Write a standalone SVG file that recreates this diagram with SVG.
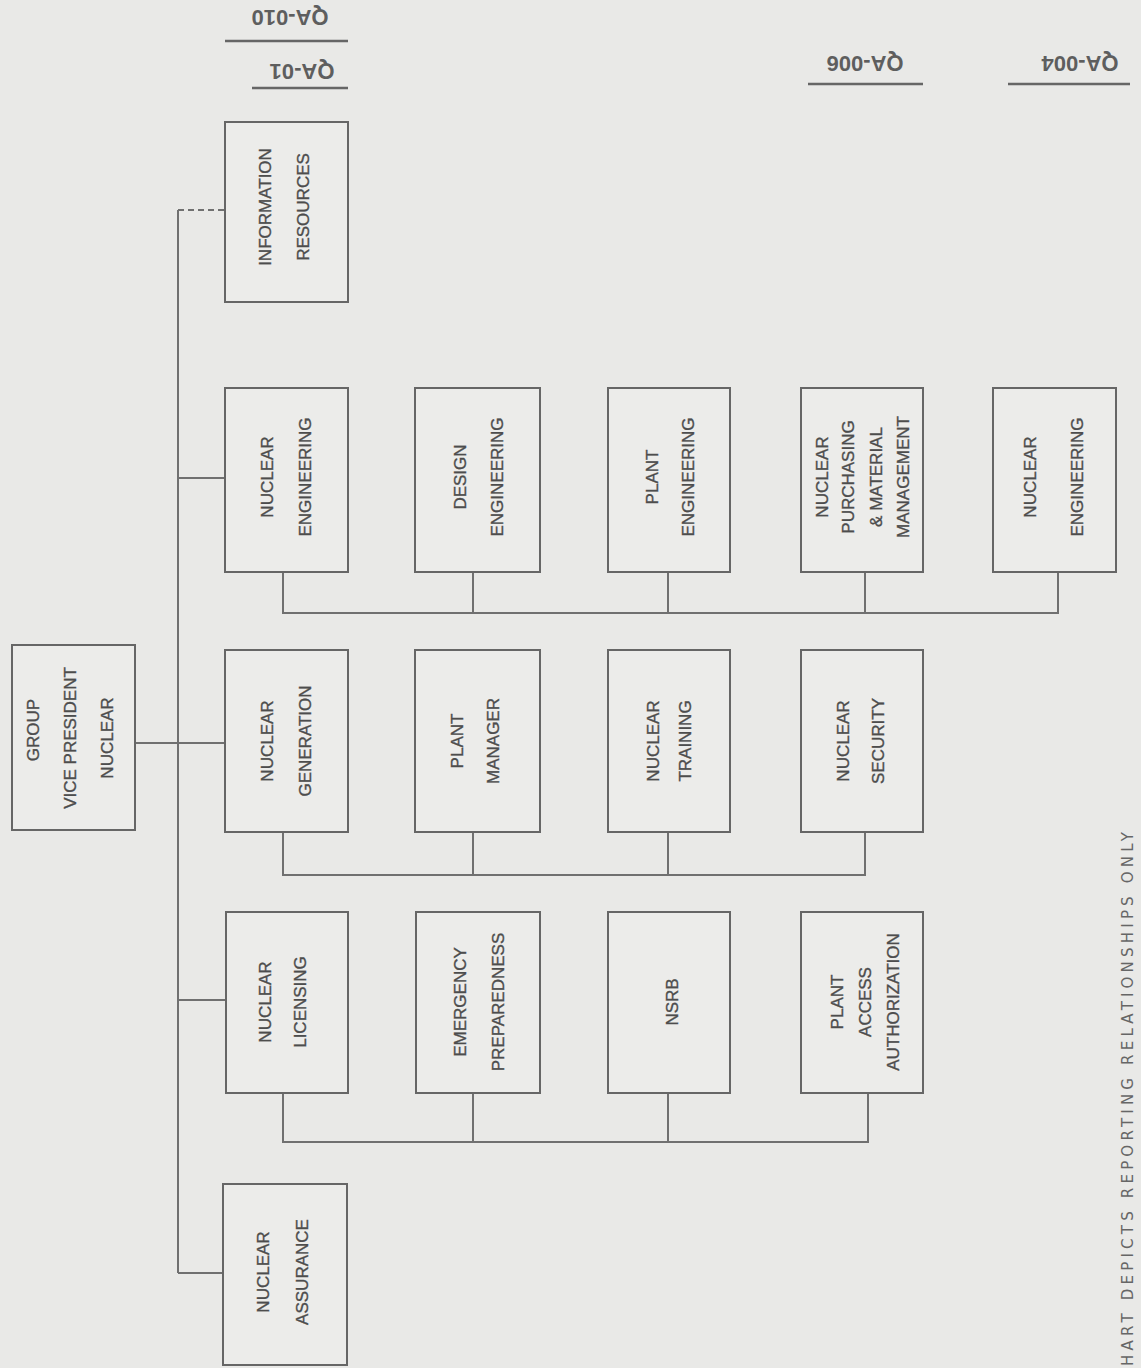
<svg xmlns="http://www.w3.org/2000/svg" width="1141" height="1368" viewBox="0 0 1141 1368">
<style>
.bg{fill:#e9e9e7}
.box{fill:#ececea;stroke:#666;stroke-width:2}
.ln{fill:none;stroke:#707070;stroke-width:2}
.t{font-family:"Liberation Sans",Arial,sans-serif;font-size:17px;fill:#4d4d4d;stroke:#4d4d4d;stroke-width:0.35;text-anchor:middle}
.hw{font-family:"Liberation Sans",Arial,sans-serif;font-size:22px;font-weight:bold;fill:#5e5e5e;text-anchor:middle}
.ul{stroke:#666;stroke-width:2.5}
.note{font-family:"DejaVu Sans",sans-serif;font-size:15px;fill:#666}
</style>
<rect class="bg" x="0" y="0" width="1141" height="1368"/>

<g id="labels-top">
<text class="hw" transform="translate(290,18) rotate(180)" dy="8">QA-010</text>
<line class="ul" x1="225" y1="41" x2="348" y2="41"/>
<text class="hw" transform="translate(302,72) rotate(180)" dy="8">QA-01</text>
<line class="ul" x1="252" y1="88" x2="348" y2="88"/>
<text class="hw" transform="translate(865,64) rotate(180)" dy="8">QA-006</text>
<line class="ul" x1="808" y1="84" x2="923" y2="84"/>
<text class="hw" transform="translate(1080,64) rotate(180)" dy="8">QA-004</text>
<line class="ul" x1="1008" y1="84" x2="1130" y2="84"/>
</g>

<g id="connectors">
<line class="ln" x1="135" y1="743" x2="178" y2="743"/>
<line class="ln" x1="178" y1="210" x2="178" y2="1273"/>
<line class="ln" x1="178" y1="210" x2="225" y2="210" stroke-dasharray="6,4"/>
<line class="ln" x1="178" y1="478" x2="225" y2="478"/>
<line class="ln" x1="178" y1="743" x2="225" y2="743"/>
<line class="ln" x1="178" y1="1000" x2="225" y2="1000"/>
<line class="ln" x1="178" y1="1273" x2="223" y2="1273"/>
<path class="ln" d="M283 572V613H1058V572M473 572V613M668 572V613M865 572V613"/>
<path class="ln" d="M283 832V875H865V832M473 832V875M668 832V875"/>
<path class="ln" d="M283 1093V1142H868V1093M473 1093V1142M668 1093V1142"/>
</g>

<g id="n-gvp">
<rect class="box" x="12" y="645" width="123" height="185"/>
<text class="t" transform="translate(33,730) rotate(-90)" dy="6">GROUP</text>
<text class="t" transform="translate(70,738) rotate(-90)" dy="6">VICE PRESIDENT</text>
<text class="t" transform="translate(107,738) rotate(-90)" dy="6">NUCLEAR</text>
</g>

<g id="n-info">
<rect class="box" x="225" y="122" width="123" height="180"/>
<text class="t" transform="translate(265,207) rotate(-90)" dy="6">INFORMATION</text>
<text class="t" transform="translate(303,207) rotate(-90)" dy="6">RESOURCES</text>
</g>

<g id="n-neng">
<rect class="box" x="225" y="388" width="123" height="184"/>
<text class="t" transform="translate(267,477) rotate(-90)" dy="6">NUCLEAR</text>
<text class="t" transform="translate(305,477) rotate(-90)" dy="6">ENGINEERING</text>
</g>
<g id="n-deng">
<rect class="box" x="415" y="388" width="125" height="184"/>
<text class="t" transform="translate(460,477) rotate(-90)" dy="6">DESIGN</text>
<text class="t" transform="translate(497,477) rotate(-90)" dy="6">ENGINEERING</text>
</g>
<g id="n-peng">
<rect class="box" x="608" y="388" width="122" height="184"/>
<text class="t" transform="translate(652,477) rotate(-90)" dy="6">PLANT</text>
<text class="t" transform="translate(688,477) rotate(-90)" dy="6">ENGINEERING</text>
</g>
<g id="n-purch">
<rect class="box" x="801" y="388" width="122" height="184"/>
<text class="t" transform="translate(822,477) rotate(-90)" dy="6">NUCLEAR</text>
<text class="t" transform="translate(848,477) rotate(-90)" dy="6">PURCHASING</text>
<text class="t" transform="translate(876,477) rotate(-90)" dy="6">&amp; MATERIAL</text>
<text class="t" transform="translate(903,477) rotate(-90)" dy="6">MANAGEMENT</text>
</g>
<g id="n-neng2">
<rect class="box" x="993" y="388" width="123" height="184"/>
<text class="t" transform="translate(1030,477) rotate(-90)" dy="6">NUCLEAR</text>
<text class="t" transform="translate(1077,477) rotate(-90)" dy="6">ENGINEERING</text>
</g>

<g id="n-ngen">
<rect class="box" x="225" y="650" width="123" height="182"/>
<text class="t" transform="translate(267,741) rotate(-90)" dy="6">NUCLEAR</text>
<text class="t" transform="translate(305,741) rotate(-90)" dy="6">GENERATION</text>
</g>
<g id="n-pm">
<rect class="box" x="415" y="650" width="125" height="182"/>
<text class="t" transform="translate(457,741) rotate(-90)" dy="6">PLANT</text>
<text class="t" transform="translate(493,741) rotate(-90)" dy="6">MANAGER</text>
</g>
<g id="n-ntr">
<rect class="box" x="608" y="650" width="122" height="182"/>
<text class="t" transform="translate(653,741) rotate(-90)" dy="6">NUCLEAR</text>
<text class="t" transform="translate(685,741) rotate(-90)" dy="6">TRAINING</text>
</g>
<g id="n-nsec">
<rect class="box" x="801" y="650" width="122" height="182"/>
<text class="t" transform="translate(843,741) rotate(-90)" dy="6">NUCLEAR</text>
<text class="t" transform="translate(878,741) rotate(-90)" dy="6">SECURITY</text>
</g>

<g id="n-nlic">
<rect class="box" x="226" y="912" width="122" height="181"/>
<text class="t" transform="translate(265,1002) rotate(-90)" dy="6">NUCLEAR</text>
<text class="t" transform="translate(300,1002) rotate(-90)" dy="6">LICENSING</text>
</g>
<g id="n-emer">
<rect class="box" x="416" y="912" width="124" height="181"/>
<text class="t" transform="translate(460,1002) rotate(-90)" dy="6">EMERGENCY</text>
<text class="t" transform="translate(498,1002) rotate(-90)" dy="6">PREPAREDNESS</text>
</g>
<g id="n-nsrb">
<rect class="box" x="608" y="912" width="122" height="181"/>
<text class="t" transform="translate(672,1002) rotate(-90)" dy="6">NSRB</text>
</g>
<g id="n-paa">
<rect class="box" x="801" y="912" width="122" height="181"/>
<text class="t" transform="translate(837,1002) rotate(-90)" dy="6">PLANT</text>
<text class="t" transform="translate(865,1002) rotate(-90)" dy="6">ACCESS</text>
<text class="t" transform="translate(893,1002) rotate(-90)" dy="6">AUTHORIZATION</text>
</g>

<g id="n-nqa">
<rect class="box" x="223" y="1184" width="124" height="181"/>
<text class="t" transform="translate(263,1272) rotate(-90)" dy="6">NUCLEAR</text>
<text class="t" transform="translate(302,1272) rotate(-90)" dy="6">ASSURANCE</text>
</g>

<g id="footnote">
<text class="note" transform="translate(1128,1366) rotate(-90)" dy="5" textLength="534" lengthAdjust="spacing">HART DEPICTS REPORTING RELATIONSHIPS ONLY</text>
</g>
</svg>
